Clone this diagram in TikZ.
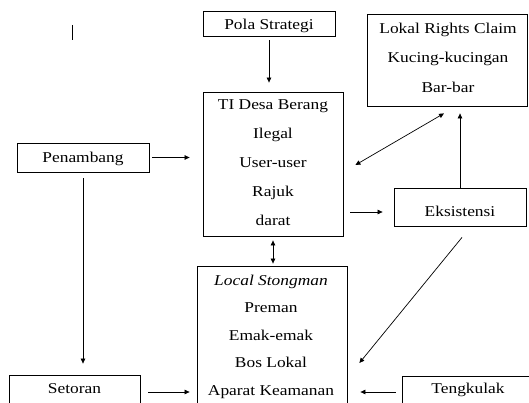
\documentclass[tikz,border=0pt]{standalone}
\usepackage{fontspec}
\setmainfont{Liberation Serif}[FakeStretch=1.16]
\usetikzlibrary{arrows.meta,calc}

\begin{document}
\begin{tikzpicture}[x=1pt, y=-1pt,
  box/.style = {draw, line width=0.8pt, inner sep=0pt},
  lbl/.style = {inner sep=0pt, anchor=base, font=\fontsize{15}{18}\selectfont},
  lines/.style = {inner sep=0pt, anchor=north, align=center, font=\fontsize{15}{#1}\selectfont},
  arr/.style = {line width=0.7pt, -{Triangle[length=5pt,width=4.5pt]}},
  darr/.style = {line width=0.7pt, {Triangle[length=5pt,width=4.5pt]}-{Triangle[length=5pt,width=4.5pt]}}]
\useasboundingbox (0,0) rectangle (529,403);
\clip (0,0) rectangle (529,403);
% boxes
\node[box, minimum width=132, minimum height=25](pola)at(269,23.5){};
\node[box, minimum width=160, minimum height=92](claim)at(447,60){};
\node[box, minimum width=140, minimum height=144](ti)at(273,164){};
\node[box, minimum width=132, minimum height=29](pen)at(83,157.5){};
\node[box, minimum width=132, minimum height=38](eks)at(460,207){};
\node[box, minimum width=150, minimum height=150](strong)at(272,341){};
\node[box, minimum width=131, minimum height=34](set)at(74.5,392){};
\node[box, minimum width=132, minimum height=32](teng)at(468,392){};
% texts
\node[lbl](polatxt)at(269,29.3){Pola Strategi};
\node[lbl](pentxt)at(83,162.3){Penambang};
\node[lbl](ekstxt)at(460,216){Eksistensi};
\node[lbl](settxt)at(74.5,393.3){Setoran};
\node[lbl](tengtxt)at(468,393.3){Tengkulak};
\node[lines=28.8](titxt)at(273,99.9){TI Desa Berang\\Ilegal\\User-user\\Rajuk\\darat};
\node[lines=29.2](claimtxt)at(448,23.1){Lokal Rights Claim\\Kucing-kucingan\\Bar-bar};
\node[lines=27.5](strongtxt)at(271,274.5){\textit{Local Stongman}\\Preman\\Emak-emak\\Bos Lokal\\Aparat Keamanan};
% arrows
\path[draw, arr, shorten <=4pt, shorten >=9pt](pola.south)to(pola.south |- ti.north);
\path[draw, arr, shorten <=3pt, shorten >=13pt](pen.east)to(pen.east -| ti.west);
\path[draw, arr, shorten <=6pt, shorten >=11pt](pen.south)to(pen.south |- set.north);
\path[draw, arr, shorten <=8pt, shorten >=7pt](set.east)to(set.east -| strong.west);
\path[draw, arr, shorten <=6pt, shorten >=13pt](teng.west)to(teng.west -| strong.east);
\path[draw, darr, shorten <=4pt, shorten >=2pt](ti.south)to(ti.south |- strong.north);
\path[draw, arr, shorten <=7pt, shorten >=11pt]([yshift=-5pt]ti.east |- eks.west)to([yshift=-5pt]eks.west);
\path[draw, arr, shorten >=7pt](eks.north)to(eks.north |- claim.south);
\path[draw, darr]([xshift=12pt,yshift=-1pt]ti.east)to([xshift=-3pt,yshift=-7pt]claim.south);
\path[draw, arr]([xshift=2pt,yshift=-11pt]eks.south)to([xshift=12pt,yshift=-22pt]strong.east);
% stray mark
\path[draw, line width=0.8pt](72,25)to(72,40);
\end{tikzpicture}
\end{document}
